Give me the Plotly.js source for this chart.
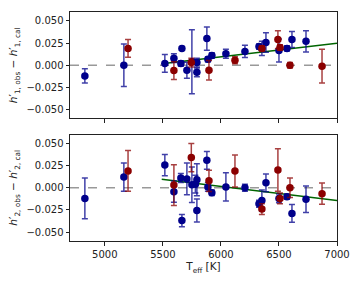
<!DOCTYPE html>
<html><head><meta charset="utf-8">
<script src="https://cdn.plot.ly/plotly-3.0.1.min.js"></script>
<style>html,body{margin:0;padding:0;background:#fff}</style>
</head><body><div id="c" style="width:360px;height:288px"></div>
<script>
// Top panel (h'1) data
const T1_blue = [4828, 5164, 5517, 5595, 5655, 5664, 5707, 5750, 5793, 5793, 5879, 5888, 5922, 6043, 6207, 6328, 6353, 6388, 6500, 6569, 6612, 6733];
const h1_blue = [-0.012, 0.000, 0.002, 0.008, 0.002, 0.019, -0.0056, 0.004, 0.003, -0.008, 0.030, 0.0067, 0.011, 0.013, 0.0156, 0.021, 0.019, 0.0256, 0.0167, 0.019, 0.029, 0.027];
const e1_blue = [0.008, 0.024, 0.010, 0.005, 0.003, 0.002, 0.009, 0.036, 0.005, 0.005, 0.013, 0.003, 0.003, 0.005, 0.007, 0.003, 0.008, 0.011, 0.013, 0.003, 0.009, 0.012];
const T1_red = [5200, 5595, 5745, 5897, 6121, 6353, 6491, 6509, 6595, 6871];
const h1_red = [0.019, -0.006, 0.003, -0.0056, 0.0056, 0.019, 0.029, 0.020, 0.000, -0.001];
const e1_red = [0.010, 0.010, 0.005, 0.011, 0.004, 0.003, 0.010, 0.003, 0.003, 0.019];
const fit1_T = [5490, 7000];
const fit1_h = [0.0018, 0.0248];

// Bottom panel (h'2) data
const T2_blue = [4828, 5164, 5517, 5595, 5655, 5664, 5707, 5750, 5780, 5793, 5793, 5879, 5888, 5922, 6043, 6207, 6328, 6353, 6388, 6500, 6569, 6612, 6733];
const h2_blue = [-0.012, 0.012, 0.0256, -0.0044, 0.011, -0.037, 0.010, 0.0033, 0.004, 0.009, -0.0256, 0.031, 0.001, -0.0056, 0.001, 0.000, -0.018, -0.0144, 0.0056, -0.012, -0.010, -0.029, -0.013];
const e2_blue = [0.023, 0.016, 0.012, 0.012, 0.005, 0.007, 0.018, 0.020, 0.010, 0.018, 0.013, 0.010, 0.005, 0.003, 0.016, 0.004, 0.004, 0.012, 0.010, 0.005, 0.003, 0.010, 0.015];
const T2_red = [5200, 5595, 5745, 5897, 6121, 6353, 6491, 6509, 6595, 6871];
const h2_red = [0.019, 0.003, 0.034, 0.0078, 0.019, -0.024, 0.020, -0.012, 0.000, -0.0067];
const e2_red = [0.023, 0.023, 0.016, 0.012, 0.018, 0.006, 0.024, 0.006, 0.011, 0.012];
const fit2_T = [5490, 7000];
const fit2_h = [0.0096, -0.0144];

const yTicks = [-0.05, -0.025, 0, 0.025, 0.05];
const yTickText = ['\u22120.050', '\u22120.025', '0.000', '0.025', '0.050'];
const xTicks = [5000, 5500, 6000, 6500, 7000];

const BLUE = '#00008b', RED = '#8b0000';
const BLUE_E = 'rgba(0,0,139,0.75)', RED_E = 'rgba(139,0,0,0.75)';
const GREEN = '#006400';

function pts(x, y, e, col, ecol, ya) {
  return {x: x, y: y, yaxis: ya, xaxis: 'x', type: 'scatter', mode: 'markers',
    marker: {color: col, size: 7.5, line: {width: 0}},
    error_y: {type: 'data', array: e, visible: true, color: ecol, thickness: 1.5, width: 3},
    showlegend: false, hoverinfo: 'none'};
}
function fit(x, y, ya) {
  return {x: x, y: y, yaxis: ya, xaxis: 'x', type: 'scatter', mode: 'lines',
    line: {color: GREEN, width: 1.5}, showlegend: false, hoverinfo: 'none'};
}

const data = [
  fit(fit1_T, fit1_h, 'y'),
  pts(T1_blue, h1_blue, e1_blue, BLUE, BLUE_E, 'y'),
  pts(T1_red, h1_red, e1_red, RED, RED_E, 'y'),
  fit(fit2_T, fit2_h, 'y2'),
  pts(T2_blue, h2_blue, e2_blue, BLUE, BLUE_E, 'y2'),
  pts(T2_red, h2_red, e2_red, RED, RED_E, 'y2')
];

const font = {family: 'DejaVu Sans', size: 10, color: '#222'};
const axBase = {showgrid: false, zeroline: false, showline: true, mirror: true,
  linecolor: '#222', linewidth: 1, ticks: 'outside', ticklen: 3.5, tickwidth: 1, tickcolor: '#222',
  tickfont: font};

const layout = {
  width: 360, height: 288,
  margin: {l: 70, r: 23, t: 12, b: 47},
  paper_bgcolor: '#fff', plot_bgcolor: '#fff',
  font: font,
  xaxis: Object.assign({}, axBase, {range: [4700, 7000], tickvals: xTicks, anchor: 'y2',
    title: {text: 'T<sub>eff</sub> [K]', font: {family: 'DejaVu Sans', size: 10.5, color: '#222'}, standoff: 4}}),
  xaxis2: Object.assign({}, axBase, {range: [4700, 7000], tickvals: xTicks, showticklabels: false,
    anchor: 'y', overlaying: 'x', matches: 'x'}),
  yaxis: Object.assign({}, axBase, {domain: [0.535, 1], range: [-0.06, 0.06], tickvals: yTicks, ticktext: yTickText,
    title: {text: '<i>h</i>\u2032<sub>1, obs</sub> \u2212 <i>h</i>\u2032<sub>1, cal</sub>', font: {family: 'DejaVu Sans', size: 10.5, color: '#222'}, standoff: 6}}),
  yaxis2: Object.assign({}, axBase, {domain: [0, 0.465], range: [-0.06, 0.06], tickvals: yTicks, ticktext: yTickText,
    title: {text: '<i>h</i>\u2032<sub>2, obs</sub> \u2212 <i>h</i>\u2032<sub>2, cal</sub>', font: {family: 'DejaVu Sans', size: 10.5, color: '#222'}, standoff: 6}}),
  shapes: [
    {type: 'line', xref: 'x domain', x0: 0, x1: 1, yref: 'y', y0: 0, y1: 0, layer: 'below',
      line: {color: 'rgba(128,128,128,0.8)', width: 1.5, dash: 'dash'}},
    {type: 'line', xref: 'x domain', x0: 0, x1: 1, yref: 'y2', y0: 0, y1: 0, layer: 'below',
      line: {color: 'rgba(128,128,128,0.8)', width: 1.5, dash: 'dash'}}
  ]
};
// top panel uses same x axis ticks; add tick marks via xaxis2 overlay
data[0].xaxis = 'x2'; data[1].xaxis = 'x2'; data[2].xaxis = 'x2';
layout.shapes[0].xref = 'x2 domain';

Plotly.newPlot('c', data, layout, {staticPlot: true, displayModeBar: false});
</script></body></html>
